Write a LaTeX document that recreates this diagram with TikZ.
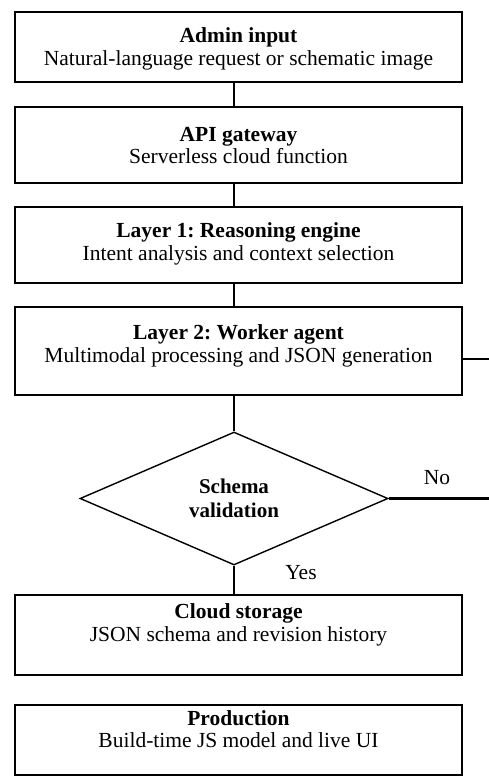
\documentclass[tikz,border=0pt]{standalone}
\usepackage{fontspec}
\setmainfont{Liberation Serif}
\usetikzlibrary{shapes.geometric,shadows}
\frenchspacing
\begin{document}
\begin{tikzpicture}[x=1pt,y=-1pt,
  boxnode/.style={draw, fill=white, line width=1.1pt, minimum width=447pt, inner sep=0pt,
    drop shadow={shadow xshift=1.2pt, shadow yshift=-1.2pt, opacity=1, fill=black}},
  txt/.style={align=center, inner sep=0pt, font=\fontsize{21.5}{22.5}\selectfont},
  conn/.style={line width=1.6pt},
  sideconn/.style={line width=2.4pt},
  lbl/.style={inner sep=0pt, font=\fontsize{21.5}{22.5}\selectfont}]
\useasboundingbox (0,0) rectangle (489,776);
% boxes
\node[boxnode, minimum height=70pt] (b1) at (238.5,47) {};
\node[boxnode, minimum height=76pt] (b2) at (238.5,145) {};
\node[boxnode, minimum height=76pt] (b3) at (238.5,245) {};
\node[boxnode, minimum height=88pt] (b4) at (238.5,351) {};
\node[boxnode, minimum height=80pt] (b5) at (238.5,635) {};
\node[boxnode, minimum height=70pt] (b6) at (238.5,740) {};
% texts
\node[txt] (t1) at (238.5,49) {\textbf{Admin input}\\Natural-language request or schematic image};
\node[txt] (t2) at (238.5,145.5) {\textbf{API gateway}\\Serverless cloud function};
\node[txt] (t3) at (238.5,244) {\textbf{Layer 1: Reasoning engine}\\Intent analysis and context selection};
\node[txt] (t4) at (238.5,346) {\textbf{Layer 2: Worker agent}\\Multimodal processing and JSON generation};
\node[txt] (t5) at (238.5,625) {\textbf{Cloud storage}\\JSON schema and revision history};
\node[txt] (t6) at (238.5,729) {\textbf{Production}\\Build-time JS model and live UI};
% diamond
\node[diamond, draw, line width=1.4pt, minimum width=308pt, minimum height=133pt, inner sep=0pt,
  txt, font=\fontsize{21}{24}\selectfont\bfseries] (d) at (234,498.5) {Schema\\validation};
% connectors
\draw[conn] (b1.south -| d.north) -- (b2.north -| d.north);
\draw[conn] (b2.south -| d.north) -- (b3.north -| d.north);
\draw[conn] (b3.south -| d.north) -- (b4.north -| d.north);
\draw[conn] (b4.south -| d.north) -- (d.north);
\draw[conn] (d.south) -- (b5.north -| d.south);
\coordinate (e1) at (489,359);
\coordinate (e2) at (489,498.5);
\draw[sideconn] (b4.east |- e1) -- (e1);
\draw[sideconn] (d.east) -- (e2);
\node[lbl] (no) at (437,478) {No};
\node[lbl] (yes) at (301,573) {Yes};
\end{tikzpicture}
\end{document}
